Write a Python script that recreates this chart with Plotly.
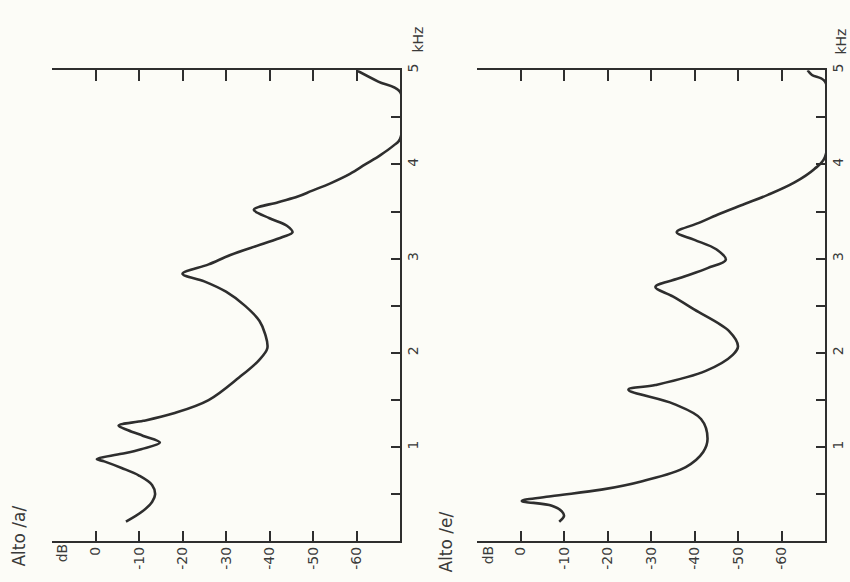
import plotly.graph_objects as go

# ---- data (frequency in kHz, level in dB) ----
a_freq = [0.21, 0.32, 0.42, 0.50, 0.60, 0.70, 0.78, 0.85, 0.875, 0.93, 0.98, 1.05, 1.12, 1.18, 1.23,
          1.28, 1.36, 1.50, 1.74, 1.92, 2.05, 2.20, 2.34, 2.50, 2.65, 2.76, 2.84, 2.94, 3.04, 3.15,
          3.23, 3.28, 3.35, 3.43, 3.52, 3.60, 3.66, 3.72, 3.80, 3.90, 4.00, 4.10, 4.20, 4.27,
          4.77, 4.88, 5.00]
a_db = [-7, -10.8, -13, -13.7, -13, -10, -6, -2, -0.3, -6, -10.5, -14.8, -11, -7.5, -5.3,
        -11, -18, -26, -33, -37.5, -39.5, -39, -37.7, -34.4, -30, -25, -20, -26, -31, -38,
        -43, -45.3, -44, -40, -36.4, -42, -46.5, -49.7, -54, -58.5, -62, -65.5, -68.5, -70,
        -70, -65, -60]

e_freq = [0.21, 0.27, 0.32, 0.38, 0.43, 0.48, 0.55, 0.64, 0.79, 0.95, 1.09, 1.30, 1.46, 1.61,
          1.66, 1.81, 1.98, 2.07, 2.23, 2.46, 2.60, 2.70, 2.80, 2.90, 2.99, 3.10, 3.20, 3.28,
          3.38, 3.47, 3.58, 3.68, 3.81, 3.95, 4.08, 4.88, 4.95, 5.00]
e_db = [-8.9, -10, -9.5, -7.2, -0.3, -7, -18.6, -28, -38, -42, -43, -41.5, -35.2, -24.8,
        -31, -42.6, -48.8, -50, -48, -40, -35, -31, -37, -43, -47.2, -45, -40, -35.9,
        -41, -45.4, -51.5, -57, -63, -67.5, -70, -70, -67, -66]

db_ticks = [0, -10, -20, -30, -40, -50, -60]
db_labels = ["0", "-10", "-20", "-30", "-40", "-50", "-60"]
khz_ticks = [0.5, 1, 1.5, 2, 2.5, 3, 3.5, 4, 4.5, 5]
khz_labels = ["", "1", "", "2", "", "3", "", "4", "", "5"]
titles = ["Alto /a/", "Alto /e/"]

INK = "#2e2e2e"
TXT = "#3a3a3a"
BG = "#fcfcf7"
FONT = "DejaVu Sans"

fig = go.Figure()
for xs, ys, xa, ya in [(a_db, a_freq, "x", "y"), (e_db, e_freq, "x2", "y2")]:
    fig.add_trace(go.Scatter(x=xs, y=ys, mode="lines", xaxis=xa, yaxis=ya,
                             line=dict(color=INK, width=2.6, shape="spline", smoothing=1.0),
                             showlegend=False, hoverinfo="skip"))

W, H = 850, 582
ydom = [1 - 541 / H, 1 - 64 / H]


def xax(dom, anchor):
    return dict(domain=dom, anchor=anchor, range=[10, -70], tickvals=db_ticks, ticktext=db_labels,
                ticks="inside", ticklen=11, tickwidth=1.6, tickcolor=INK, showline=True,
                linecolor=INK, linewidth=1.7, mirror="ticks", tickangle=-90, showgrid=False,
                zeroline=False, ticklabelstandoff=-2,
                tickfont=dict(size=14, color=TXT, family=FONT), fixedrange=True)


def yax(anchor):
    return dict(domain=ydom, anchor=anchor, range=[0, 5], side="right", tickvals=khz_ticks,
                ticktext=khz_labels, ticks="inside", ticklen=9, tickwidth=1.5, tickcolor=INK,
                showline=True, linecolor=INK, linewidth=1.7, mirror=False, tickangle=-90,
                showgrid=False, zeroline=False, ticklabelstandoff=-1,
                tickfont=dict(size=14, color=TXT, family=FONT), fixedrange=True)


fig.update_layout(
    width=W, height=H, margin=dict(l=0, r=0, t=0, b=0),
    paper_bgcolor=BG, plot_bgcolor=BG,
    font=dict(family=FONT, color=TXT, size=14),
    xaxis=xax([52 / W, 400 / W], "y"), yaxis=yax("x"),
    xaxis2=xax([477 / W, 825 / W], "y2"), yaxis2=yax("x2"),
)

ann = [
    (titles[0], 19, 536, 17), (titles[1], 446, 541, 17),
    ("dB", 62, 553, 14), ("dB", 488, 555, 14),
    ("kHz", 418, 33, 14), ("kHz", 841, 35, 14),
]
for text, px, py, size in ann:
    fig.add_annotation(text=text, x=px / W, y=1 - py / H, xref="paper", yref="paper",
                       showarrow=False, textangle=-90, xanchor="center", yanchor="middle",
                       font=dict(size=size, color=TXT, family=FONT))

fig.write_html("out.html", config={"displayModeBar": False},
               post_script="document.body.style.margin='0';document.body.style.background='#fcfcf7';")
